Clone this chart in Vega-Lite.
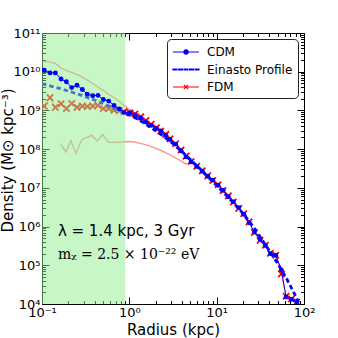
{
  "$schema": "https://vega.github.io/schema/vega-lite/v6.json",
  "width": 262,
  "height": 271,
  "autosize": {"type": "none"},
  "padding": {"left": 42, "top": 33, "right": 34, "bottom": 34},
  "background": "white",
  "config": {
    "view": {"stroke": "#000", "strokeWidth": 1},
    "font": "DejaVu Sans",
    "axis": {"domain": false, "grid": false, "tickColor": "#000", "tickWidth": 1, "labelColor": "#000", "titleColor": "#000", "labelFont": "DejaVu Sans", "titleFont": "DejaVu Sans", "titleFontWeight": "normal", "zindex": 1, "labelFlush": false, "labelOverlap": false}
  },
  "datasets": {
    "cdm": [{"r":0.1062,"rho":1.096e10},{"r":0.1236,"rho":9.33e9},{"r":0.1422,"rho":9.33e9},{"r":0.1652,"rho":6.46e9},{"r":0.1901,"rho":5.5e9},{"r":0.2188,"rho":3.89e9},{"r":0.2518,"rho":4.47e9},{"r":0.2897,"rho":3.47e9},{"r":0.3304,"rho":2.63e9},{"r":0.3811,"rho":2.4e9},{"r":0.4375,"rho":2.45e9},{"r":0.5035,"rho":1.91e9},{"r":0.5808,"rho":1.74e9},{"r":0.6683,"rho":1.35e9},{"r":0.7674,"rho":1.1e9},{"r":0.869,"rho":8.9e8},{"r":1.0116,"rho":8.7e8},{"r":1.161,"rho":7.6e8},{"r":1.349,"rho":6.3e8},{"r":1.549,"rho":5.0e8},{"r":1.778,"rho":4.1e8},{"r":2.042,"rho":3.4e8},{"r":2.291,"rho":2.95e8},{"r":2.612,"rho":2.29e8},{"r":2.924,"rho":1.78e8},{"r":3.388,"rho":1.35e8},{"r":3.908,"rho":9.1e7},{"r":4.467,"rho":6.3e7},{"r":5.093,"rho":4.68e7},{"r":5.916,"rho":3.55e7},{"r":6.855,"rho":2.69e7},{"r":7.907,"rho":2.0e7},{"r":9.016,"rho":1.58e7},{"r":10.38,"rho":1.17e7},{"r":11.83,"rho":8.7e6},{"r":13.61,"rho":5.9e6},{"r":15.52,"rho":4.37e6},{"r":17.91,"rho":3.09e6},{"r":20.42,"rho":2.09e6},{"r":23.5,"rho":1.26e6},{"r":27.04,"rho":7.2e5},{"r":31.41,"rho":4.68e5},{"r":36.14,"rho":3.24e5},{"r":41.21,"rho":2.0e5},{"r":47.53,"rho":1.82e5},{"r":55.08,"rho":7.6e4},{"r":62.37,"rho":1.51e4},{"r":71.78,"rho":1.32e4},{"r":82.6,"rho":1.15e4}],
    "fdm": [{"r":0.1062,"rho":1.29e9},{"r":0.1236,"rho":2.14e9},{"r":0.1422,"rho":1.2e9},{"r":0.1652,"rho":1.48e9},{"r":0.1901,"rho":1.12e9},{"r":0.2188,"rho":1.51e9},{"r":0.2518,"rho":1.2e9},{"r":0.2897,"rho":1.29e9},{"r":0.3304,"rho":1.26e9},{"r":0.3811,"rho":1.29e9},{"r":0.4375,"rho":1.35e9},{"r":0.5035,"rho":1.12e9},{"r":0.5808,"rho":1.12e9},{"r":0.6683,"rho":1.02e9},{"r":0.7674,"rho":9.8e8},{"r":0.869,"rho":9.3e8},{"r":1.0116,"rho":8.7e8},{"r":1.161,"rho":8.1e8},{"r":1.349,"rho":6.8e8},{"r":1.549,"rho":5.5e8},{"r":1.778,"rho":4.4e8},{"r":2.042,"rho":3.55e8},{"r":2.291,"rho":2.95e8},{"r":2.612,"rho":2.4e8},{"r":2.924,"rho":1.86e8},{"r":3.388,"rho":1.38e8},{"r":3.908,"rho":9.5e7},{"r":4.467,"rho":6.6e7},{"r":5.093,"rho":4.8e7},{"r":5.916,"rho":3.6e7},{"r":6.855,"rho":2.75e7},{"r":7.907,"rho":2.04e7},{"r":9.016,"rho":1.55e7},{"r":10.38,"rho":1.2e7},{"r":11.83,"rho":8.5e6},{"r":13.61,"rho":6.2e6},{"r":15.52,"rho":4.3e6},{"r":17.91,"rho":2.95e6},{"r":20.42,"rho":2.14e6},{"r":23.5,"rho":1.32e6},{"r":27.04,"rho":7.1e5},{"r":31.41,"rho":4.4e5},{"r":36.14,"rho":3.3e5},{"r":41.21,"rho":2.04e5},{"r":47.53,"rho":1.82e5},{"r":55.08,"rho":6.0e4},{"r":62.37,"rho":1.58e4},{"r":71.78,"rho":1.35e4},{"r":82.6,"rho":1.12e4}],
    "einasto": [{"r":0.1,"rho":4.9e9},{"r":0.1259,"rho":4.27e9},{"r":0.1585,"rho":3.72e9},{"r":0.1995,"rho":3.16e9},{"r":0.2512,"rho":2.69e9},{"r":0.3162,"rho":2.24e9},{"r":0.3981,"rho":1.86e9},{"r":0.5012,"rho":1.51e9},{"r":0.631,"rho":1.2e9},{"r":0.7943,"rho":9.55e8},{"r":1.0,"rho":7.59e8},{"r":1.259,"rho":5.89e8},{"r":1.585,"rho":4.27e8},{"r":1.995,"rho":3.02e8},{"r":2.512,"rho":2.09e8},{"r":3.162,"rho":1.38e8},{"r":3.981,"rho":8.7e7},{"r":5.012,"rho":5.37e7},{"r":6.31,"rho":3.24e7},{"r":7.943,"rho":1.91e7},{"r":10.0,"rho":1.15e7},{"r":12.59,"rho":6.76e6},{"r":15.85,"rho":3.89e6},{"r":19.95,"rho":2.19e6},{"r":25.12,"rho":1.12e6},{"r":31.62,"rho":5.37e5},{"r":39.81,"rho":2.45e5},{"r":50.12,"rho":1.1e5},{"r":63.1,"rho":4.57e4},{"r":79.43,"rho":1.66e4},{"r":89.13,"rho":9.3e3}],
    "extra": [{"s":"a","r":0.1,"rho":1.9e10},{"s":"a","r":0.12,"rho":1.78e10},{"s":"a","r":0.1413,"rho":1.66e10},{"s":"a","r":0.1679,"rho":1.2e10},{"s":"a","r":0.2089,"rho":1.0e10},{"s":"a","r":0.2723,"rho":7.9e9},{"s":"a","r":0.3548,"rho":5.5e9},{"s":"a","r":0.4613,"rho":3.7e9},{"s":"a","r":0.6026,"rho":2.5e9},{"s":"a","r":0.7816,"rho":1.66e9},{"s":"a","r":0.9484,"rho":1.17e9},{"s":"a","r":1.148,"rho":8.5e8},{"s":"a","r":1.413,"rho":6.3e8},{"s":"a","r":1.995,"rho":3.55e8},
      {"s":"b","r":0.1637,"rho":1.35e8},{"s":"b","r":0.1884,"rho":8.5e7},{"s":"b","r":0.2148,"rho":1.66e8},{"s":"b","r":0.2455,"rho":7.8e7},{"s":"b","r":0.2851,"rho":1.74e8},{"s":"b","r":0.3715,"rho":2.29e8},{"s":"b","r":0.4295,"rho":1.62e8},{"s":"b","r":0.4955,"rho":2.4e8},{"s":"b","r":0.5754,"rho":1.51e8},{"s":"b","r":0.7816,"rho":1.51e8},{"s":"b","r":0.9484,"rho":1.58e8},{"s":"b","r":1.112,"rho":1.55e8},{"s":"b","r":1.581,"rho":1.29e8},{"s":"b","r":2.249,"rho":9.5e7},{"s":"b","r":2.924,"rho":7.1e7},{"s":"b","r":3.802,"rho":5.1e7},{"s":"b","r":4.365,"rho":4.2e7},{"s":"b","r":5.25,"rho":4.4e7},{"s":"b","r":6.31,"rho":3.3e7}]
  },
  "layer": [
    {
      "data": {"name": "extra"},
      "mark": {"type": "line", "color": "#ff0000", "opacity": 0.4, "strokeWidth": 1.5, "clip": true},
      "encoding": {
        "x": {"field": "r", "type": "quantitative", "scale": {"type": "log", "domain": [0.1, 100], "nice": false},
              "axis": {"orient": "bottom", "values": [0.1, 1, 10, 100], "tickSize": -7, "labelPadding": 9, "labelFontSize": 13,
                       "labelExpr": "['10⁻¹','10⁰','10¹','10²'][round(log(datum.value)/LN10)+1]",
                       "title": "Radius (kpc)", "titleFontSize": 15, "titleY": 18, "titleBaseline": "top"}},
        "y": {"field": "rho", "type": "quantitative", "scale": {"type": "log", "domain": [1e4, 1e11], "nice": false},
              "axis": {"orient": "left", "values": [1e4, 1e5, 1e6, 1e7, 1e8, 1e9, 1e10, 1e11], "tickSize": -7, "labelPadding": 9, "labelFontSize": 13,
                       "labelExpr": "['10⁴','10⁵','10⁶','10⁷','10⁸','10⁹','10¹⁰','10¹¹'][round(log(datum.value)/LN10)-4]",
                       "title": "Density (M⊙ kpc⁻³)", "titleFontSize": 15, "titleX": -27, "titleY": 127, "titleAngle": 270, "titleBaseline": "bottom"}},
        "detail": {"field": "s", "type": "nominal"}
      }
    },
    {
      "data": {"name": "fdm"},
      "mark": {"type": "line", "color": "#ff0000", "opacity": 0.55, "strokeWidth": 1, "clip": true},
      "encoding": {
        "x": {"field": "r", "type": "quantitative", "scale": {"type": "log", "domain": [0.1, 100], "nice": false},
              "axis": {"orient": "top", "values": [0.1, 1, 10, 100], "tickSize": -7, "labels": false, "title": null}},
        "y": {"field": "rho", "type": "quantitative", "scale": {"type": "log", "domain": [1e4, 1e11], "nice": false},
              "axis": {"orient": "right", "values": [1e4, 1e5, 1e6, 1e7, 1e8, 1e9, 1e10, 1e11], "tickSize": -7, "labels": false, "title": null}}
      }
    },
    {
      "data": {"name": "fdm"},
      "mark": {"type": "point", "shape": "M-1,-1L1,1M-1,1L1,-1", "filled": false, "color": "#ff0000", "strokeWidth": 1.8, "size": 40, "opacity": 1, "clip": true},
      "encoding": {
        "x": {"field": "r", "type": "quantitative", "scale": {"type": "log", "domain": [0.1, 100], "nice": false},
              "axis": {"orient": "bottom", "values": [0.2,0.3,0.4,0.5,0.6,0.7,0.8,0.9,2,3,4,5,6,7,8,9,20,30,40,50,60,70,80,90], "tickSize": -3.5, "labels": false, "title": null}},
        "y": {"field": "rho", "type": "quantitative", "scale": {"type": "log", "domain": [1e4, 1e11], "nice": false},
              "axis": {"orient": "left", "values": [2e4,3e4,4e4,5e4,6e4,7e4,8e4,9e4,2e5,3e5,4e5,5e5,6e5,7e5,8e5,9e5,2e6,3e6,4e6,5e6,6e6,7e6,8e6,9e6,2e7,3e7,4e7,5e7,6e7,7e7,8e7,9e7,2e8,3e8,4e8,5e8,6e8,7e8,8e8,9e8,2e9,3e9,4e9,5e9,6e9,7e9,8e9,9e9,2e10,3e10,4e10,5e10,6e10,7e10,8e10,9e10], "tickSize": -3.5, "labels": false, "title": null}}
      }
    },
    {
      "data": {"name": "einasto"},
      "mark": {"type": "line", "color": "#0000ff", "strokeWidth": 2.8, "strokeDash": [4.5, 3], "clip": true},
      "encoding": {
        "x": {"field": "r", "type": "quantitative", "scale": {"type": "log", "domain": [0.1, 100], "nice": false},
              "axis": {"orient": "top", "values": [0.2,0.3,0.4,0.5,0.6,0.7,0.8,0.9,2,3,4,5,6,7,8,9,20,30,40,50,60,70,80,90], "tickSize": -3.5, "labels": false, "title": null}},
        "y": {"field": "rho", "type": "quantitative", "scale": {"type": "log", "domain": [1e4, 1e11], "nice": false},
              "axis": {"orient": "right", "values": [2e4,3e4,4e4,5e4,6e4,7e4,8e4,9e4,2e5,3e5,4e5,5e5,6e5,7e5,8e5,9e5,2e6,3e6,4e6,5e6,6e6,7e6,8e6,9e6,2e7,3e7,4e7,5e7,6e7,7e7,8e7,9e7,2e8,3e8,4e8,5e8,6e8,7e8,8e8,9e8,2e9,3e9,4e9,5e9,6e9,7e9,8e9,9e9,2e10,3e10,4e10,5e10,6e10,7e10,8e10,9e10], "tickSize": -3.5, "labels": false, "title": null}}
      }
    },
    {
      "data": {"values": [{"a": 0.1, "b": 0.9}]},
      "mark": {"type": "rect", "color": "#90ee90", "opacity": 0.5},
      "encoding": {
        "x": {"field": "a", "type": "quantitative", "scale": {"type": "log", "domain": [0.1, 100], "nice": false}, "axis": null},
        "x2": {"field": "b"}
      }
    },
    {
      "data": {"name": "cdm"},
      "mark": {"type": "line", "color": "#0000ff", "strokeWidth": 1, "clip": true},
      "encoding": {
        "x": {"field": "r", "type": "quantitative", "scale": {"type": "log", "domain": [0.1, 100], "nice": false}, "axis": null},
        "y": {"field": "rho", "type": "quantitative", "scale": {"type": "log", "domain": [1e4, 1e11], "nice": false}, "axis": null}
      }
    },
    {
      "data": {"name": "cdm"},
      "mark": {"type": "circle", "color": "#0000ff", "size": 24, "opacity": 1, "clip": true},
      "encoding": {
        "x": {"field": "r", "type": "quantitative", "scale": {"type": "log", "domain": [0.1, 100], "nice": false}, "axis": null},
        "y": {"field": "rho", "type": "quantitative", "scale": {"type": "log", "domain": [1e4, 1e11], "nice": false}, "axis": null}
      }
    },
    {
      "data": {"values": [{"r": 0.152, "rho": 7.65e5, "t": "λ = 1.4 kpc, 3 Gyr"}]},
      "mark": {"type": "text", "align": "left", "baseline": "middle", "font": "DejaVu Sans", "fontSize": 15, "color": "#000"},
      "encoding": {
        "x": {"field": "r", "type": "quantitative", "scale": {"type": "log", "domain": [0.1, 100], "nice": false}, "axis": null},
        "y": {"field": "rho", "type": "quantitative", "scale": {"type": "log", "domain": [1e4, 1e11], "nice": false}, "axis": null},
        "text": {"field": "t"}
      }
    },
    {
      "data": {"values": [{"r": 0.152, "rho": 1.84e5, "t": "mᵪ = 2.5 × 10⁻²² eV"}]},
      "mark": {"type": "text", "align": "left", "baseline": "middle", "font": "DejaVu Serif", "fontSize": 14, "color": "#000"},
      "encoding": {
        "x": {"field": "r", "type": "quantitative", "scale": {"type": "log", "domain": [0.1, 100], "nice": false}, "axis": null},
        "y": {"field": "rho", "type": "quantitative", "scale": {"type": "log", "domain": [1e4, 1e11], "nice": false}, "axis": null},
        "text": {"field": "t"}
      }
    },
    {
      "data": {"values": [{"series": "CDM"}, {"series": "Einasto Profile"}, {"series": "FDM"}]},
      "mark": {"type": "point", "opacity": 0, "filled": false},
      "encoding": {
        "color": {"field": "series", "type": "nominal",
                  "scale": {"domain": ["CDM", "Einasto Profile", "FDM"], "range": ["#0000ff", "#0000ff", "#ff0000"]},
                  "legend": {"title": null, "orient": "top-right", "offset": 6, "padding": 5, "fillColor": "white", "strokeColor": "#222", "cornerRadius": 4,
                             "labelFont": "DejaVu Sans", "labelFontSize": 12, "labelColor": "#000", "labelLimit": 200,
                             "symbolSize": 196, "symbolOpacity": 1, "symbolStrokeWidth": 1.2, "labelOffset": 19, "rowPadding": 3.5,
                             "encode": {"symbols": {"update": {"opacity": {"value": 1}}}}}},
        "shape": {"field": "series", "type": "nominal",
                  "scale": {"domain": ["CDM", "Einasto Profile", "FDM"],
                            "range": ["M-1,0L2.7,0M1.16,0A0.3,0.3,0,1,1,0.56,0A0.3,0.3,0,1,1,1.16,0ZM0.99,0A0.13,0.13,0,1,1,0.73,0A0.13,0.13,0,1,1,0.99,0Z",
                                      "M-1,-0.05L-0.45,-0.05L-0.45,0.05L-1,0.05ZM-0.21,-0.05L0.34,-0.05L0.34,0.05L-0.21,0.05ZM0.58,-0.05L1.13,-0.05L1.13,0.05L0.58,0.05ZM1.37,-0.05L1.92,-0.05L1.92,0.05L1.37,0.05ZM2.16,-0.05L2.71,-0.05L2.71,0.05L2.16,0.05Z",
                                      "M-1,0L2.7,0M0.56,-0.3L1.16,0.3M0.56,0.3L1.16,-0.3"]}}
      }
    }
  ],
  "resolve": {"axis": {"x": "independent", "y": "independent"}}
}
